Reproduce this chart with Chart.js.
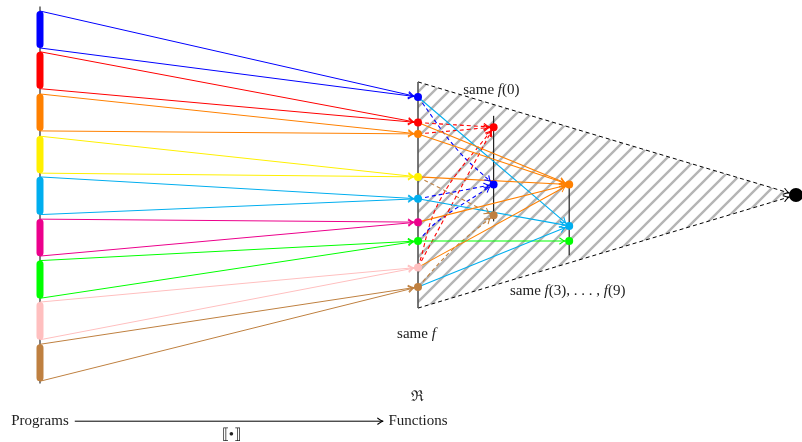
<!DOCTYPE html>
<html>
<head>
<meta charset="utf-8">
<script src="https://cdn.jsdelivr.net/npm/chart.js@4.4.0/dist/chart.umd.min.js"></script>
<style>
html, body { margin: 0; padding: 0; background: #fff; }
#wrap { width: 802px; height: 442px; }
</style>
</head>
<body>
<div id="wrap"><canvas id="diagram"></canvas></div>
<script>
// programs on the left, each one a short segment of the program line
const programs = ['blue', 'red', 'orange', 'yellow', 'cyan', 'magenta', 'green', 'pink', 'brown'];
const programTop = [4.94, 4.40, 3.84, 3.28, 2.74, 2.18, 1.63, 1.08, 0.52];
const programBottom = [4.45, 3.91, 3.35, 2.79, 2.24, 1.69, 1.13, 0.58, 0.03];
// where each program lands on the function line ("same f")
const functionY = [3.80, 3.46, 3.31, 2.74, 2.45, 2.14, 1.89, 1.54, 1.28];

// columns
const columnX = { programs: 0, f: 5, f0: 6, f39: 7, apex: 10 };
const programSpan = [0, 5];
const fSpan = [1, 4];
const f0Span = [2.15, 3.55];
const f39Span = [1.70, 2.66];
const apexY = 2.5;

// points that share f(0), and points that share f(3..9)
const f0Names = ['red', 'blue', 'brown'];
const f0Y = [3.40, 2.64, 2.23];
const f39Names = ['orange', 'cyan', 'green'];
const f39Y = [2.64, 2.09, 1.89];

// [from function point, to f(3..9) point]
const solidLinks = [
    ['red', 'orange'], ['orange', 'orange'], ['yellow', 'orange'], ['magenta', 'orange'], ['pink', 'orange'],
    ['blue', 'cyan'], ['cyan', 'cyan'], ['brown', 'cyan'],
    ['green', 'green']
];
// [from function point, to f(0) point, point the curve bends through]
const dashedLinks = [
    ['red', 'red'], ['orange', 'red'], ['pink', 'red'], ['pink', 'red', [5.29, 2.43]],
    ['blue', 'blue', [5.52, 3.10]], ['cyan', 'blue'], ['green', 'blue', [5.26, 2.15]],
    ['yellow', 'brown'], ['brown', 'brown', [5.45, 1.77]]
];

// texts: runs of [text, italic], position
const labels = [
    { runs: [['same ', 0], ['f', 1], ['(0)', 0]], x: 5.97, y: 3.89 },
    { runs: [['same ', 0], ['f', 1], ['(3), . . . , ', 0], ['f', 1], ['(9)', 0]], x: 6.98, y: 1.23 },
    { runs: [['same ', 0], ['f', 1]], x: 4.98, y: 0.66 },
    { runs: [['\u211C', 0]], x: 5.0, y: -0.18 },
    { runs: [['Programs', 0]], x: 0, y: -0.50 },
    { runs: [['Functions', 0]], x: 5.0, y: -0.50 },
    { runs: [['\u27E6\u2022\u27E7', 0]], x: 2.53, y: -0.68 }
];
const mapArrow = [0.46, 4.54]; // Programs -> Functions, at y of the labels

const palette = {
    blue: '#0000ff', red: '#ff0000', orange: '#ff8000', yellow: '#fff000', cyan: '#00aeef',
    magenta: '#ec008c', green: '#00ff00', pink: '#ffbfbf', brown: '#bf8040'
};

function pt(x, y) { return { x: x, y: y }; }
function fnPoint(name) { return pt(columnX.f, functionY[programs.indexOf(name)]); }

// hatch pattern for the "same f" region
const tile = document.createElement('canvas');
tile.width = 15; tile.height = 15;
const tctx = tile.getContext('2d');
tctx.strokeStyle = '#b5b5b5';
tctx.lineWidth = 2.4;
tctx.beginPath();
tctx.moveTo(-2, 17); tctx.lineTo(17, -2);
tctx.moveTo(-2, 2); tctx.lineTo(2, -2);
tctx.moveTo(13, 17); tctx.lineTo(17, 13);
tctx.stroke();
const hatch = tctx.createPattern(tile, 'repeat');

const datasets = [];
function line(data, color, width, opts) {
    datasets.push(Object.assign({
        data: data, showLine: true, borderColor: color, borderWidth: width,
        pointRadius: 0, pointHoverRadius: 0, fill: false
    }, opts || {}));
}

// region
line([pt(columnX.f, fSpan[1]), pt(columnX.apex, apexY), pt(columnX.f, fSpan[0]), pt(columnX.f, fSpan[1])],
    'rgba(0,0,0,0)', 0, { fill: 'shape', backgroundColor: hatch, order: 9 });
line([pt(columnX.f, fSpan[1]), pt(columnX.apex, apexY)], '#000', 1, { borderDash: [4, 3], arrow: true, arrowGap: 7, order: 8 });
line([pt(columnX.f, fSpan[0]), pt(columnX.apex, apexY)], '#000', 1, { borderDash: [4, 3], arrow: true, arrowGap: 7, order: 8 });

// column lines
line([pt(columnX.programs, programSpan[0]), pt(columnX.programs, programSpan[1])], '#808080', 2, { order: 7 });
line([pt(columnX.f, fSpan[0]), pt(columnX.f, fSpan[1])], '#555', 1.6, { order: 7 });
line([pt(columnX.f0, f0Span[0]), pt(columnX.f0, f0Span[1])], '#222', 1.2, { order: 7 });
line([pt(columnX.f39, f39Span[0]), pt(columnX.f39, f39Span[1])], '#222', 1.2, { order: 7 });

// program segments and their arrows into f
const capInset = 0.045;
programs.forEach(function (name, i) {
    line([pt(columnX.programs, programTop[i] - capInset), pt(columnX.programs, programBottom[i] + capInset)],
        palette[name], 7, { borderCapStyle: 'round', order: 6 });
    line([pt(columnX.programs, programTop[i]), fnPoint(name)], palette[name], 1, { arrow: true, arrowGap: 4, order: 5 });
    line([pt(columnX.programs, programBottom[i]), fnPoint(name)], palette[name], 1, { arrow: true, arrowGap: 4, order: 5 });
});

dashedLinks.forEach(function (l) {
    const to = pt(columnX.f0, f0Y[f0Names.indexOf(l[1])]);
    const data = l[2] ? [fnPoint(l[0]), pt(l[2][0], l[2][1]), to] : [fnPoint(l[0]), to];
    line(data, palette[l[1]], 1.1, { borderDash: [4, 3], tension: 0.4, arrow: true, arrowGap: 4, order: 4 });
});

solidLinks.forEach(function (l) {
    const to = pt(columnX.f39, f39Y[f39Names.indexOf(l[1])]);
    line([fnPoint(l[0]), to], palette[l[1]], 1.1, { arrow: true, arrowGap: 4, order: 3 });
});

line(mapArrow.map(function (x) { return pt(x, -0.5); }), '#000', 1, { arrow: true, arrowGap: 0, order: 3 });

// dots
const dots = programs.map(fnPoint)
    .concat(f0Names.map(function (n, i) { return pt(columnX.f0, f0Y[i]); }))
    .concat(f39Names.map(function (n, i) { return pt(columnX.f39, f39Y[i]); }));
const dotColors = programs.concat(f0Names, f39Names).map(function (n) { return palette[n]; });
datasets.push({ data: dots, pointRadius: 4, pointHoverRadius: 4, pointBackgroundColor: dotColors, pointBorderWidth: 0, showLine: false, order: 1 });
datasets.push({ data: [pt(columnX.apex, apexY)], pointRadius: 7, pointHoverRadius: 7, pointBackgroundColor: '#000', pointBorderWidth: 0, showLine: false, order: 1 });

const arrowHeads = {
    id: 'arrowHeads',
    afterDatasetsDraw(chart) {
        const ctx = chart.ctx;
        chart.data.datasets.forEach(function (ds, i) {
            if (!ds.arrow) return;
            const pts = chart.getDatasetMeta(i).data;
            const last = pts[pts.length - 1];
            let px = pts[pts.length - 2].x, py = pts[pts.length - 2].y;
            if (pts.length > 2 && last.cp1x !== undefined) { px = last.cp1x; py = last.cp1y; }
            let dx = last.x - px, dy = last.y - py;
            const len = Math.hypot(dx, dy) || 1;
            dx /= len; dy /= len;
            const tx = last.x - dx * ds.arrowGap, ty = last.y - dy * ds.arrowGap;
            const L = 5.5, W = 3;
            ctx.save();
            ctx.setLineDash([]);
            ctx.strokeStyle = ds.borderColor;
            ctx.lineWidth = 1.1;
            ctx.lineCap = 'round';
            ctx.beginPath();
            ctx.moveTo(tx - dx * L - dy * W, ty - dy * L + dx * W);
            ctx.quadraticCurveTo(tx - dx * 1.5, ty - dy * 1.5, tx, ty);
            ctx.quadraticCurveTo(tx - dx * 1.5, ty - dy * 1.5, tx - dx * L + dy * W, ty - dy * L - dx * W);
            ctx.stroke();
            ctx.restore();
        });
    }
};

const texts = {
    id: 'texts',
    afterDraw(chart) {
        const ctx = chart.ctx;
        const xs = chart.scales.x, ys = chart.scales.y;
        const fontOf = function (it) { return (it ? 'italic ' : '') + '15px "Liberation Serif", "DejaVu Serif", serif'; };
        ctx.save();
        ctx.fillStyle = '#222';
        ctx.textBaseline = 'middle';
        ctx.textAlign = 'left';
        labels.forEach(function (lb) {
            let total = 0;
            lb.runs.forEach(function (r) { ctx.font = fontOf(r[1]); total += ctx.measureText(r[0]).width; });
            let x = xs.getPixelForValue(lb.x) - total / 2;
            const y = ys.getPixelForValue(lb.y);
            lb.runs.forEach(function (r) {
                ctx.font = fontOf(r[1]);
                ctx.fillText(r[0], x, y);
                x += ctx.measureText(r[0]).width;
            });
        });
        ctx.restore();
    }
};

new Chart(document.getElementById('diagram'), {
    type: 'scatter',
    data: { datasets: datasets },
    options: {
        responsive: true,
        maintainAspectRatio: false,
        animation: false,
        events: [],
        layout: { padding: 0, autoPadding: false },
        plugins: { legend: { display: false }, tooltip: { enabled: false } },
        scales: {
            x: { type: 'linear', min: -0.5291, max: 10.0794, display: false },
            y: { type: 'linear', min: -0.7759, max: 5.0862, display: false }
        }
    },
    plugins: [arrowHeads, texts]
});
</script>
</body>
</html>
